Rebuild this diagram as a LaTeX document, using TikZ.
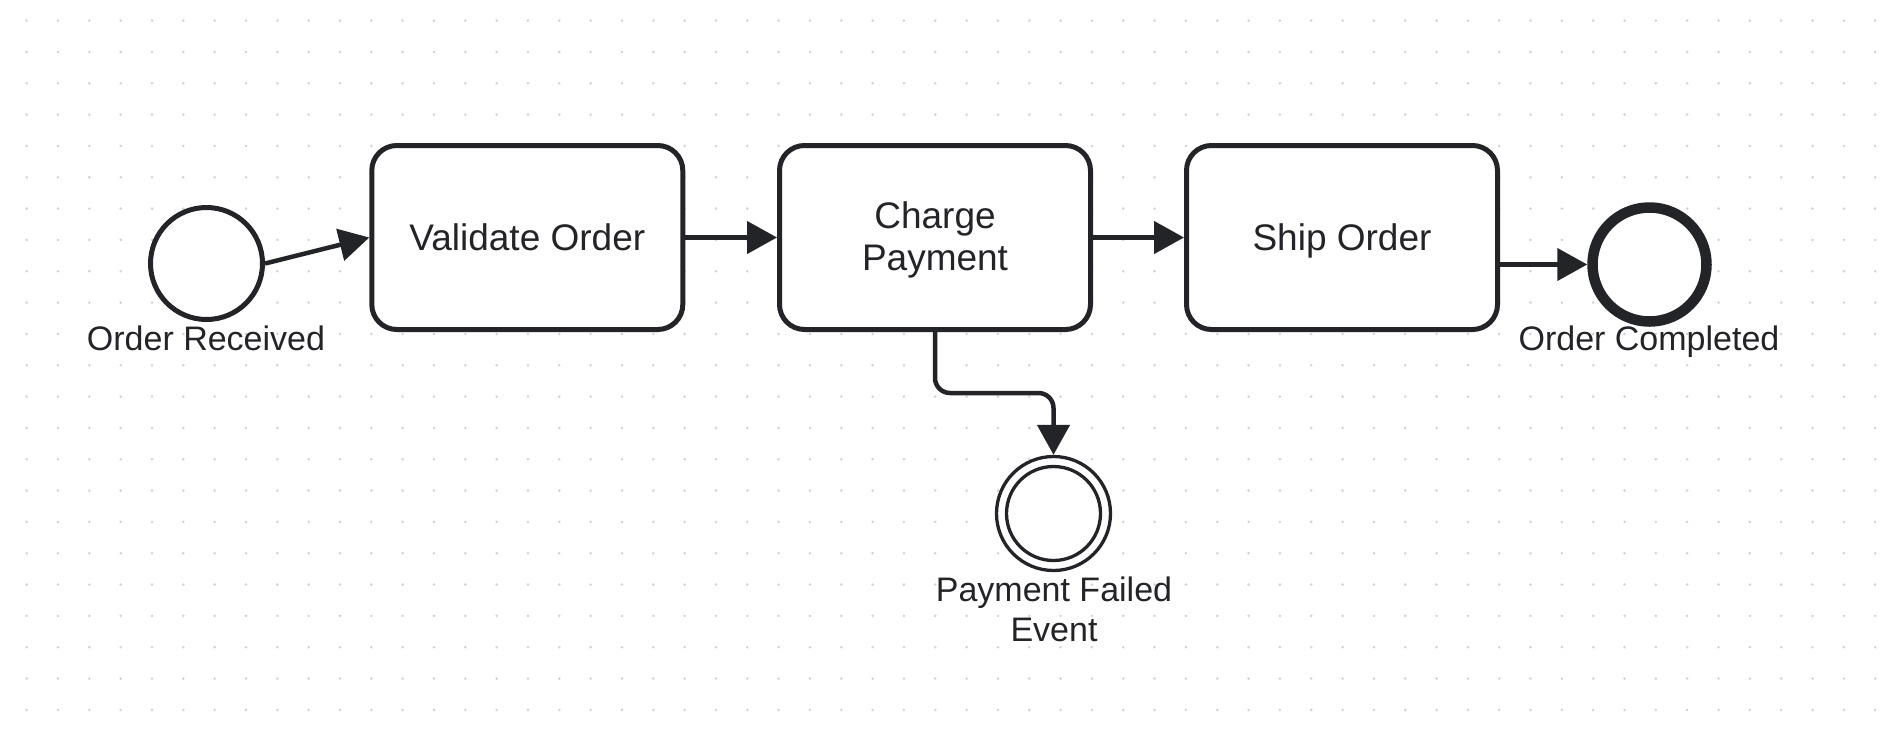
\documentclass[tikz,border=0pt]{standalone}
\usepackage{fontspec}
\setmainfont{Liberation Sans}
\usetikzlibrary{arrows.meta}
\definecolor{ink}{HTML}{232428}
\definecolor{griddot}{HTML}{D2D2D2}
\tikzset{
  taskbox/.style={draw=ink, line width=5pt, fill=white, rounded corners=25pt,
    minimum width=311pt, minimum height=184pt, inner sep=0pt,
    font=\fontsize{37}{42}\selectfont, text=ink, align=center},
  startev/.style={circle, draw=ink, line width=5pt, fill=white, minimum size=112pt, inner sep=0pt},
  endev/.style={circle, draw=ink, line width=10.5pt, fill=white, minimum size=114pt, inner sep=0pt},
  midev/.style={circle, draw=ink, line width=3.3pt, fill=white, minimum size=114pt, inner sep=0pt},
  evlabel/.style={font=\fontsize{34}{40}\selectfont, text=ink, align=center, inner sep=0pt},
  flow/.style={draw=ink, line width=4.5pt, -{Triangle[length=30pt,width=32pt]}},
}
\begin{document}
\begin{tikzpicture}[x=1pt, y=-1pt]
\fill[white] (0,0) rectangle (1888,740);
\useasboundingbox (0,0) rectangle (1888,740);
% dot grid
\foreach \i in {0,...,59} {
  \foreach \j in {0,...,22} {
    \fill[griddot] (26.7+31.33*\i, 20.6+31.33*\j) circle (1.4);
  }
}
% nodes
\node[startev] (start) at (206.5,263.5) {};
\node[taskbox, text depth=0pt] (validate) at (527.3,237.5) {Validate Order};
\node[taskbox, text depth=3.8pt] (charge) at (935,237.5) {Charge\\Payment};
\node[taskbox, text depth=0pt] (ship) at (1342,237.5) {Ship Order};
\node[endev] (end) at (1649.5,264.5) {};
\node[midev] (failed) at (1053.5,513.5) {};
\draw[ink, line width=3.3pt] (failed.center) circle (47);
% labels
\node[evlabel, anchor=base] (lstart) at (206,350) {Order Received};
\node[evlabel, anchor=base] (lend) at (1649,350) {Order Completed};
\node[evlabel, anchor=base] (lfailed) at (1054,641.7) {Payment Failed\\Event};
% connectors
\draw[flow] (start.east) -- (validate.west);
\draw[flow] (validate.east) -- (charge.west);
\draw[flow] (charge.east) -- (ship.west);
\draw[flow] (end.west -| ship.east) -- (end.west);
\draw[flow, rounded corners=15pt] (charge.south) -- ++(0,61) -| (failed.north);
\end{tikzpicture}
\end{document}
